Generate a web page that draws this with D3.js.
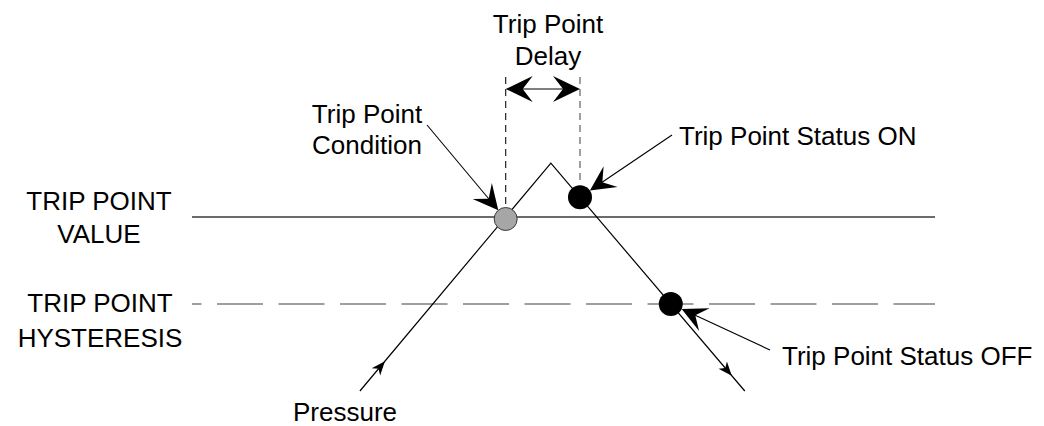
<!DOCTYPE html>
<html>
<head>
<meta charset="utf-8">
<script src="https://cdn.jsdelivr.net/npm/d3@7"></script>
<style>
  body { margin: 0; background: #fff; }
  text { font-family: "Liberation Sans", Arial, sans-serif; font-size: 26px; fill: #000; }
</style>
</head>
<body>
<div id="chart"></div>
<script>
// time axis (arbitrary units) and pressure values
var pressureTime = [22.6, 48.3, 74.4];
var pressureValue = [60, 112.4, 60];
var tripValue = 100;
var hysteresisValue = 80;
var tripDelay = 10;

var labels = [
  {lines: ["Trip Point", "Delay"], x: 548, y: 33, gap: 32, anchor: "middle"},
  {lines: ["Trip Point", "Condition"], x: 367, y: 123, gap: 31, anchor: "middle"},
  {lines: ["Trip Point Status ON"], x: 679, y: 145, gap: 0, anchor: "start"},
  {lines: ["TRIP POINT", "VALUE"], x: 99, y: 210, gap: 33, anchor: "middle"},
  {lines: ["TRIP POINT", "HYSTERESIS"], x: 100, y: 312, gap: 35, anchor: "middle"},
  {lines: ["Trip Point Status OFF"], x: 782, y: 365, gap: 0, anchor: "start"},
  {lines: ["Pressure"], x: 293, y: 421, gap: 0, anchor: "start"}
];

var width = 1044, height = 426;

var svg = d3.select("#chart").append("svg")
  .attr("width", width)
  .attr("height", height);

var x = d3.scaleLinear().domain([0, 100]).range([192, 935]);
var y = d3.scaleLinear().domain([60, 100]).range([391, 217]);

var pts = pressureTime.map(function(t, i){ return [t, pressureValue[i]]; });

// find time where segment crosses a value
function crossing(a, b, v){
  return a[0] + (v - a[1]) / (b[1] - a[1]) * (b[0] - a[0]);
}
function valueAt(t){
  for (var i = 0; i < pts.length - 1; i++){
    if (t >= pts[i][0] && t <= pts[i+1][0]){
      var k = (t - pts[i][0]) / (pts[i+1][0] - pts[i][0]);
      return pts[i][1] + k * (pts[i+1][1] - pts[i][1]);
    }
  }
  return pts[pts.length-1][1];
}

var tCond = crossing(pts[0], pts[1], tripValue);
var tOn = tCond + tripDelay;
var tOff = crossing(pts[1], pts[2], hysteresisValue);

var condPt = {x: x(tCond), y: y(tripValue) + 2, r: 11.5};
var onPt = {x: x(tOn), y: y(valueAt(tOn)), r: 12};
var offPt = {x: x(tOff), y: y(hysteresisValue), r: 12};

// barbed arrowhead, tip at (tx,ty) pointing along (ux,uy)
function arrowHead(tx, ty, ux, uy, L, W, N){
  var px = -uy, py = ux;
  return "M" + tx + "," + ty +
    "L" + (tx - L*ux + W*px) + "," + (ty - L*uy + W*py) +
    "L" + (tx - N*ux) + "," + (ty - N*uy) +
    "L" + (tx - L*ux - W*px) + "," + (ty - L*uy - W*py) + "Z";
}

// trip point value line
svg.append("line")
  .attr("x1", x(0)).attr("x2", x(100))
  .attr("y1", y(tripValue)).attr("y2", y(tripValue))
  .attr("stroke", "#3a3a3a")
  .attr("stroke-width", 1.3);

// hysteresis dashed line
svg.append("line")
  .attr("x1", x(0)).attr("x2", x(100))
  .attr("y1", y(hysteresisValue)).attr("y2", y(hysteresisValue))
  .attr("stroke", "#808080")
  .attr("stroke-width", 1.6)
  .attr("stroke-dasharray", "46,15.5")
  .attr("stroke-dashoffset", 36.5);

// pressure line
var line = d3.line()
  .x(function(d){ return x(d[0]); })
  .y(function(d){ return y(d[1]); });
svg.append("path")
  .datum(pts)
  .attr("d", line)
  .attr("fill", "none")
  .attr("stroke", "#000")
  .attr("stroke-width", 1.2);

// small direction arrows on pressure line
function segArrow(a, b, frac){
  var ax = x(a[0]), ay = y(a[1]), bx = x(b[0]), by = y(b[1]);
  var dx = bx - ax, dy = by - ay, len = Math.sqrt(dx*dx + dy*dy);
  var ux = dx/len, uy = dy/len;
  var tx = ax + dx*frac, ty = ay + dy*frac;
  svg.append("path")
    .attr("d", arrowHead(tx, ty, ux, uy, 14, 5.5, 10))
    .attr("fill", "#000");
}
segArrow(pts[0], pts[1], 0.131);
segArrow(pts[1], pts[2], 0.933);

// delay dashed verticals
var arrowY = 89;
svg.append("line")
  .attr("x1", condPt.x).attr("x2", condPt.x)
  .attr("y1", 77).attr("y2", condPt.y - condPt.r)
  .attr("stroke", "#222")
  .attr("stroke-width", 1.2)
  .attr("stroke-dasharray", "7,5");
svg.append("line")
  .attr("x1", onPt.x).attr("x2", onPt.x)
  .attr("y1", 77).attr("y2", onPt.y - onPt.r)
  .attr("stroke", "#777")
  .attr("stroke-width", 1.4)
  .attr("stroke-dasharray", "7,5");

// delay double arrow
svg.append("line")
  .attr("x1", condPt.x + 10).attr("x2", onPt.x - 10)
  .attr("y1", arrowY).attr("y2", arrowY)
  .attr("stroke", "#000")
  .attr("stroke-width", 1.2);
svg.append("path")
  .attr("d", arrowHead(condPt.x, arrowY, -1, 0, 27, 13, 17))
  .attr("fill", "#000");
svg.append("path")
  .attr("d", arrowHead(onPt.x, arrowY, 1, 0, 27, 13, 17))
  .attr("fill", "#000");

// circles
svg.append("circle")
  .attr("cx", condPt.x).attr("cy", condPt.y).attr("r", condPt.r)
  .attr("fill", "#a6a6a6")
  .attr("stroke", "#3a3a3a")
  .attr("stroke-width", 1);
svg.selectAll(".dot")
  .data([onPt, offPt])
  .enter()
  .append("circle")
    .attr("class", "dot")
    .attr("cx", function(d){ return d.x; })
    .attr("cy", function(d){ return d.y; })
    .attr("r", function(d){ return d.r; })
    .attr("fill", "#000");

// callout arrows
var callouts = [
  {from: [427, 125], to: condPt},
  {from: [672, 135], to: onPt},
  {from: [770, 350], to: offPt}
];
callouts.forEach(function(c){
  var dx = c.to.x - c.from[0], dy = c.to.y - c.from[1];
  var len = Math.sqrt(dx*dx + dy*dy);
  var ux = dx/len, uy = dy/len;
  var tx = c.to.x - c.to.r*ux, ty = c.to.y - c.to.r*uy;
  svg.append("line")
    .attr("x1", c.from[0]).attr("y1", c.from[1])
    .attr("x2", tx - 12*ux).attr("y2", ty - 12*uy)
    .attr("stroke", "#000")
    .attr("stroke-width", 1.1);
  svg.append("path")
    .attr("d", arrowHead(tx, ty, ux, uy, 25, 12.5, 15))
    .attr("fill", "#000");
});

// labels
labels.forEach(function(l){
  var t = svg.append("text")
    .attr("text-anchor", l.anchor);
  l.lines.forEach(function(s, i){
    t.append("tspan")
      .attr("x", l.x)
      .attr("y", l.y + i*l.gap)
      .text(s);
  });
});
</script>
</body>
</html>
